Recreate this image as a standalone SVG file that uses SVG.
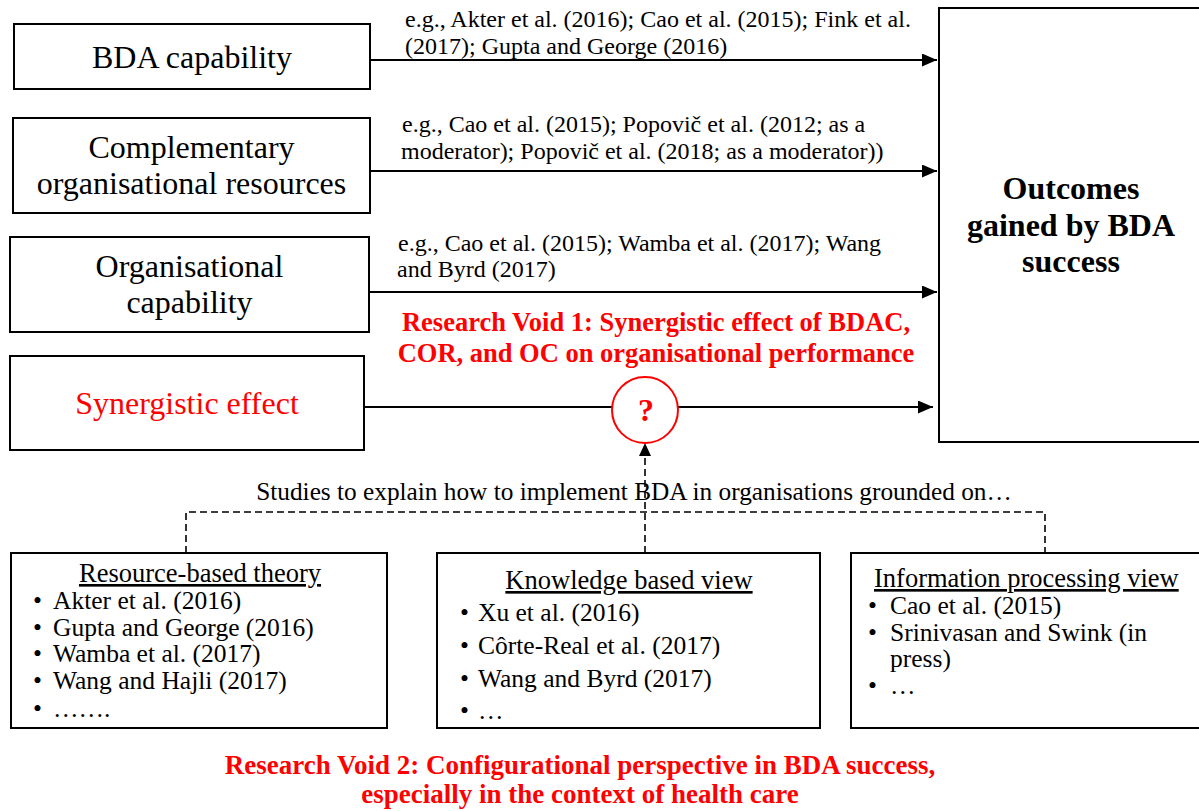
<svg xmlns="http://www.w3.org/2000/svg" width="1199" height="811" viewBox="0 0 1199 811">
<style>
  .box { fill: #fff; stroke: #000; stroke-width: 2; }
  .t { font-family: "Liberation Serif", "Times New Roman", serif; fill: #000; }
  .big { font-size: 32px; }
  .cite { font-size: 24px; }
  .list { font-size: 25.5px; }
  .head { font-size: 26.5px; }
  .red { fill: #ff0000; }
  .bold { font-weight: bold; }
  .conn { stroke: #000; stroke-width: 2; fill: none; }
  .dash { stroke: #000; stroke-width: 1.6; fill: none; stroke-dasharray: 7 4; }
</style>
<defs>
  <marker id="arr" viewBox="0 0 15 13" refX="15" refY="6.5" markerWidth="15" markerHeight="13" markerUnits="userSpaceOnUse" orient="auto">
    <path d="M0,0 L15,6.5 L0,13 Z" fill="#000"/>
  </marker>
</defs>
<rect width="1199" height="811" fill="#fff"/>

<g id="connectors">
  <line class="conn" x1="370" y1="60" x2="937" y2="60" marker-end="url(#arr)"/>
  <line class="conn" x1="370" y1="171" x2="937" y2="171" marker-end="url(#arr)"/>
  <line class="conn" x1="369" y1="292" x2="937" y2="292" marker-end="url(#arr)"/>
  <line class="conn" x1="364" y1="407" x2="612" y2="407"/>
  <line class="conn" x1="678" y1="407" x2="933" y2="407" marker-end="url(#arr)"/>
  <polyline class="dash" points="186,553 186,512 1045,512 1045,553"/>
  <line class="dash" x1="645" y1="553" x2="645" y2="456"/>
  <path d="M639,456 L651,456 L645,443 Z" fill="#000"/>
</g>

<g id="labels">
  <text class="t cite" x="405" y="27">e.g., Akter et al. (2016); Cao et al. (2015); Fink et al.</text>
  <text class="t cite" x="405" y="54">(2017); Gupta and George (2016)</text>
  <text class="t cite" x="402" y="132">e.g., Cao et al. (2015); Popovič et al. (2012; as a</text>
  <text class="t cite" x="401" y="159">moderator); Popovič et al. (2018; as a moderator))</text>
  <text class="t cite" x="398" y="251">e.g., Cao et al. (2015); Wamba et al. (2017); Wang</text>
  <text class="t cite" x="397" y="277">and Byrd (2017)</text>
  <text class="t red bold" font-size="26.5" x="656" y="331" text-anchor="middle">Research Void 1: Synergistic effect of BDAC,</text>
  <text class="t red bold" font-size="26.5" x="656" y="362" text-anchor="middle">COR, and OC on organisational performance</text>
  <text class="t" font-size="25.3" x="634" y="500" text-anchor="middle">Studies to explain how to implement BDA in organisations grounded on…</text>
  <text class="t red bold" font-size="27" x="580" y="774" text-anchor="middle">Research Void 2: Configurational perspective in BDA success,</text>
  <text class="t red bold" font-size="27" x="580" y="803" text-anchor="middle">especially in the context of health care</text>
</g>

<g id="bda-capability">
  <rect class="box" x="14" y="24" width="356" height="65"/>
  <text class="t big" x="192" y="68" text-anchor="middle">BDA capability</text>
</g>

<g id="complementary-resources">
  <rect class="box" x="13" y="118" width="357" height="95"/>
  <text class="t big" x="191.5" y="158" text-anchor="middle">Complementary</text>
  <text class="t big" x="191.5" y="194" text-anchor="middle">organisational resources</text>
</g>

<g id="organisational-capability">
  <rect class="box" x="10" y="237" width="359" height="95"/>
  <text class="t big" x="189.5" y="277" text-anchor="middle">Organisational</text>
  <text class="t big" x="189.5" y="313" text-anchor="middle">capability</text>
</g>

<g id="synergistic-effect">
  <rect class="box" x="10" y="356" width="354" height="94"/>
  <text class="t big red" x="187" y="414" text-anchor="middle">Synergistic effect</text>
</g>

<g id="outcomes">
  <rect class="box" x="939" y="8" width="270" height="434"/>
  <text class="t bold" font-size="32" x="1071" y="199" text-anchor="middle">Outcomes</text>
  <text class="t bold" font-size="32" x="1071" y="236" text-anchor="middle">gained by BDA</text>
  <text class="t bold" font-size="32" x="1071" y="272" text-anchor="middle">success</text>
</g>

<g id="question">
  <circle cx="645" cy="410" r="33" fill="#fff" stroke="#ff0000" stroke-width="2"/>
  <text class="t red bold" font-size="32" x="646" y="421" text-anchor="middle">?</text>
</g>

<g id="resource-based-theory">
  <rect class="box" x="11" y="553" width="376" height="175"/>
  <text class="t head" x="200" y="582" text-anchor="middle" text-decoration="underline">Resource-based theory</text>
  <text class="t list" x="33" y="609">•</text><text class="t list" x="53" y="609">Akter et al. (2016)</text>
  <text class="t list" x="33" y="636">•</text><text class="t list" x="53" y="636">Gupta and George (2016)</text>
  <text class="t list" x="33" y="662">•</text><text class="t list" x="53" y="662">Wamba et al. (2017)</text>
  <text class="t list" x="33" y="689">•</text><text class="t list" x="53" y="689">Wang and Hajli (2017)</text>
  <text class="t list" x="33" y="717">•</text><text class="t list" x="53" y="717">…….</text>
</g>

<g id="knowledge-based-view">
  <rect class="box" x="437" y="553" width="383" height="175"/>
  <text class="t head" x="629" y="589" text-anchor="middle" text-decoration="underline">Knowledge based view</text>
  <text class="t list" x="460" y="621">•</text><text class="t list" x="478" y="621">Xu et al. (2016)</text>
  <text class="t list" x="460" y="654">•</text><text class="t list" x="478" y="654">Côrte-Real et al. (2017)</text>
  <text class="t list" x="460" y="687">•</text><text class="t list" x="478" y="687">Wang and Byrd (2017)</text>
  <text class="t list" x="460" y="719">•</text><text class="t list" x="478" y="719">…</text>
</g>

<g id="information-processing-view">
  <rect class="box" x="851" y="553" width="360" height="175"/>
  <text class="t head" x="874" y="587" text-decoration="underline">Information processing view</text>
  <text class="t list" x="868" y="614">•</text><text class="t list" x="890" y="614">Cao et al. (2015)</text>
  <text class="t list" x="868" y="641">•</text><text class="t list" x="890" y="641">Srinivasan and Swink (in</text>
  <text class="t list" x="890" y="667">press)</text>
  <text class="t list" x="868" y="694">•</text><text class="t list" x="890" y="694">…</text>
</g>
</svg>
